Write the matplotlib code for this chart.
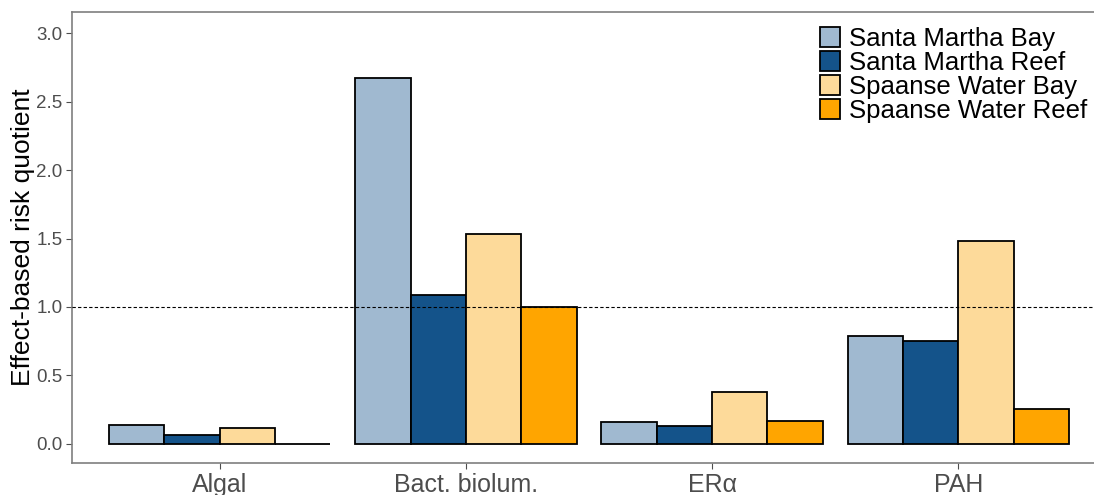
import numpy as np
import matplotlib
matplotlib.use("Agg")
import matplotlib.pyplot as plt
from matplotlib.patches import Patch

plt.rcParams["font.family"] = ["Liberation Sans", "DejaVu Sans"]

assays = ["Algal", "Bact. biolum.", "ER\u03b1", "PAH"]
sites = ["Santa Martha Bay", "Santa Martha Reef",
         "Spaanse Water Bay", "Spaanse Water Reef"]
colors = ["#A0B9D0", "#14538A", "#FDDA9A", "#FFA500"]

santa_martha_bay = [0.136, 2.674, 0.160, 0.790]
santa_martha_reef = [0.068, 1.090, 0.131, 0.748]
spaanse_water_bay = [0.119, 1.535, 0.380, 1.483]
spaanse_water_reef = [0.002, 1.003, 0.168, 0.258]
values = [santa_martha_bay, santa_martha_reef,
          spaanse_water_bay, spaanse_water_reef]

fig = plt.figure(figsize=(10.94, 4.95), dpi=100, facecolor="white")
# panel runs past the right edge of the canvas
ax = fig.add_axes([72 / 1094, 32 / 495, 1034 / 1094, 451 / 495])

x = np.arange(len(assays))
w = 0.225
for i, (vals, c) in enumerate(zip(values, colors)):
    ax.bar(x + (i - 1.5) * w, vals, width=w, color=c,
           edgecolor="black", linewidth=1.3, zorder=2)

ax.axhline(1.0, color="black", ls=(0, (3, 2)), lw=0.8, zorder=3)

ax.set_xlim(-0.6, 3.6)
ax.set_ylim(-0.14, 3.155)
ax.set_xticks(x)
ax.set_xticklabels(assays, fontsize=18, color="#4D4D4D")
ax.set_yticks(np.arange(0, 3.01, 0.5))
ax.set_yticklabels([f"{v:.1f}" for v in np.arange(0, 3.01, 0.5)],
                   fontsize=13.5, color="#4D4D4D")
ax.tick_params(axis="both", color="#4D4D4D", length=4, width=0.8, pad=3)
ax.set_ylabel("Effect-based risk quotient", fontsize=19, color="black",
              labelpad=1)

for s in ax.spines.values():
    s.set_color("#7F7F7F")
    s.set_linewidth(1.2)

handles = [Patch(facecolor=c, edgecolor="black", linewidth=1.3) for c in colors]
ax.legend(handles, sites, loc="upper left", bbox_to_anchor=(0.718, 0.979),
          borderaxespad=0, frameon=False, fontsize=18.5,
          handlelength=0.8, handleheight=0.8,
          handletextpad=0.35, labelspacing=0.0, borderpad=0.2)

fig.savefig("out.png", dpi=100, facecolor="white")
